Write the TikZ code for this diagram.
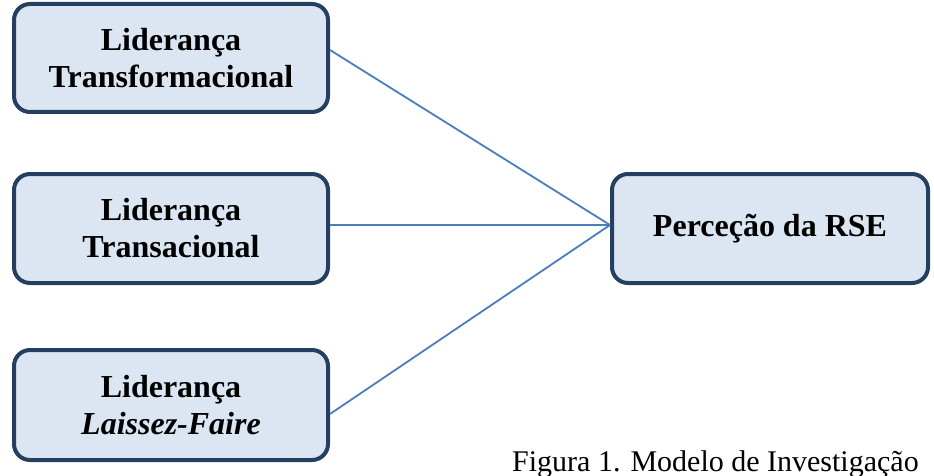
\documentclass[tikz,border=0pt]{standalone}
\usepackage{fontspec}
\setmainfont{Liberation Serif}
\usetikzlibrary{calc}
\definecolor{boxline}{HTML}{243F60}
\definecolor{boxfill}{HTML}{DCE6F2}
\definecolor{conn}{HTML}{4A7EBB}
\begin{document}
\begin{tikzpicture}[x=1pt,y=-1pt,
  mybox/.style={draw=boxline, fill=boxfill, line width=4pt, rounded corners=16pt,
    minimum width=314pt, inner sep=0pt, align=center,
    font=\fontsize{32}{37}\selectfont\bfseries},
  conline/.style={draw=conn, line width=1.8pt}]
\useasboundingbox (0,0) rectangle (934,476);
\node[mybox, minimum height=108pt] (b1) at (171,58) {Liderança\\Transformacional};
\node[mybox, minimum height=109pt] (b2) at (171,228.5) {Liderança\\Transacional};
\node[mybox, minimum height=110pt] (b3) at (171,405) {Liderança\\\textit{Laissez-Faire}};
\node[mybox, minimum width=316pt, minimum height=109pt] (r) at (770,228.5) {Perceção da RSE};
\coordinate (hub) at ($(r.west)+(0,-3.5)$);
\draw[conline] ($(b1.east)+(0,-8)$) -- (hub);
\draw[conline] ($(b2.east)+(0,-3.5)$) -- (hub);
\draw[conline] ($(b3.east)+(0,9)$) -- (hub);
\node[anchor=base west, inner sep=0pt, font=\fontsize{30}{36}\selectfont] (cap) at (512,471) {Figura 1. Modelo de Investigação};
\end{tikzpicture}
\end{document}
